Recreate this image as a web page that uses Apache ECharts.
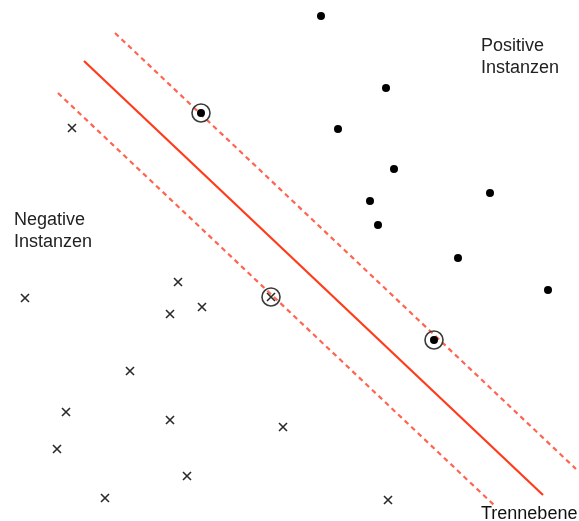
<!DOCTYPE html>
<html>
<head>
<meta charset="utf-8">
<script src="https://cdn.jsdelivr.net/npm/echarts@6/dist/echarts.min.js"></script>
<style>html,body{margin:0;padding:0;background:#fff}#c{width:579px;height:521px}</style>
</head>
<body>
<div id="c"></div>
<script>
// Positive instances (dots)
const positivePoints = [[321,16],[386,88],[338,129],[394,169],[370,201],[378,225],[490,193],[458,258],[548,290]];
// Negative instances (x)
const negativePoints = [[72,128],[25,298],[178,282],[170,314],[202,307],[130,371],[66,412],[170,420],[283,427],[57,449],[187,476],[105,498],[388,500]];
// Support vectors
const supportPos = [[201,113],[434,340]];
const supportNeg = [[271,297]];
// Separating hyperplane and margins
const hyperplane = [[84,61],[543,495]];
const marginUpper = [[115,33],[576,469]];
const marginLower = [[58,93],[494,505]];
const labels = {pos:'Positive\nInstanzen', neg:'Negative\nInstanzen', plane:'Trennebene'};

const chart = echarts.init(document.getElementById('c'));
const font = '"Liberation Sans", Arial, sans-serif';
const xPath = 'path://M0,0L10,10M10,0L0,10';
chart.setOption({
  animation:false,
  backgroundColor:'#fff',
  grid:{left:0,right:0,top:0,bottom:0},
  xAxis:{type:'value',min:0,max:579,show:false},
  yAxis:{type:'value',min:0,max:521,inverse:true,show:false},
  series:[
    {type:'line',data:marginUpper,symbol:'none',lineStyle:{color:'#ff6450',width:2.2,type:[5,4]},z:1},
    {type:'line',data:marginLower,symbol:'none',lineStyle:{color:'#ff6450',width:2.2,type:[5,4]},z:1},
    {type:'line',data:hyperplane,symbol:'none',lineStyle:{color:'#ff3b1a',width:2.2},z:2},
    {type:'scatter',data:positivePoints.concat(supportPos),symbol:'circle',symbolSize:8,itemStyle:{color:'#000',opacity:1},z:3},
    {type:'scatter',data:negativePoints.concat(supportNeg),symbol:xPath,symbolSize:8,itemStyle:{color:'rgba(0,0,0,0)',borderColor:'#2a2a2a',borderWidth:1.6,opacity:1},z:3},
    {type:'scatter',data:supportPos.concat(supportNeg),symbol:'circle',symbolSize:18,itemStyle:{color:'rgba(0,0,0,0)',borderColor:'#3a3a3a',borderWidth:1.6,opacity:1},z:4}
  ],
  graphic:[
    {type:'text',left:481,top:35,style:{text:labels.pos,font:'18px '+font,lineHeight:22,fill:'#222'}},
    {type:'text',left:14,top:209,style:{text:labels.neg,font:'18px '+font,lineHeight:22,fill:'#222'}},
    {type:'text',left:481,top:503,style:{text:labels.plane,font:'18px '+font,lineHeight:22,fill:'#111'}}
  ]
});
</script>
</body>
</html>
